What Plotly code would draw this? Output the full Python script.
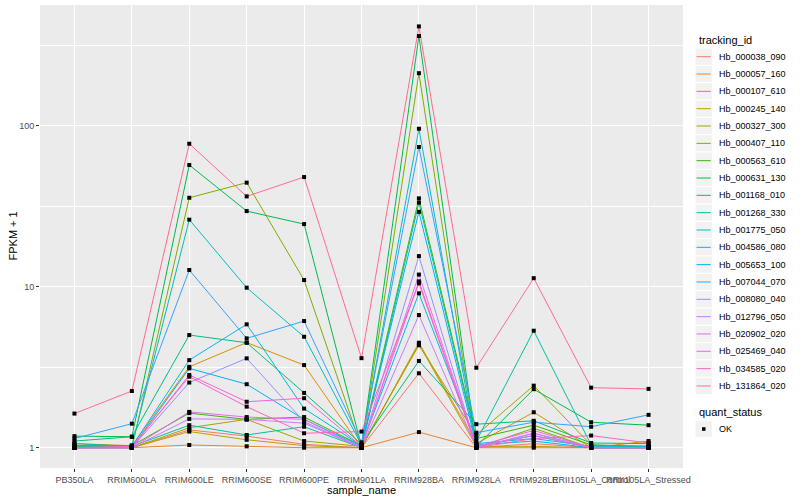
import plotly.graph_objects as go

samples = ["PB350LA", "RRIM600LA", "RRIM600LE", "RRIM600SE", "RRIM600PE", "RRIM901LA",
           "RRIM928BA", "RRIM928LA", "RRIM928LE", "RRII105LA_Control", "RRII105LA_Stressed"]

tracking_ids = ["Hb_000038_090", "Hb_000057_160", "Hb_000107_610", "Hb_000245_140",
                "Hb_000327_300", "Hb_000407_110", "Hb_000563_610", "Hb_000631_130",
                "Hb_001168_010", "Hb_001268_330", "Hb_001775_050", "Hb_004586_080",
                "Hb_005653_100", "Hb_007044_070", "Hb_008080_040", "Hb_012796_050",
                "Hb_020902_020", "Hb_025469_040", "Hb_034585_020", "Hb_131864_020"]

colors = ["#F8766D", "#EA8331", "#D89000", "#C09B00", "#A3A500", "#7CAE00", "#39B600",
          "#00BB4E", "#00BF7D", "#00C1A3", "#00BFC4", "#00BAE0", "#00B0F6", "#35A2FF",
          "#9590FF", "#C77CFF", "#E76BF3", "#FA62DB", "#FF62BC", "#FF6C91"]

quant_status = ["OK"]

# FPKM + 1 per tracking_id, in sample order
Hb_000038_090 = [1.0, 1.0, 1.29, 1.18, 1.05, 1.0, 2.9, 1.0, 1.06, 1.0, 1.0]
Hb_000057_160 = [1.0, 1.0, 1.04, 1.02, 1.0, 1.0, 1.25, 1.0, 1.0, 1.0, 1.0]
Hb_000107_610 = [1.06, 1.03, 3.18, 4.5, 3.26, 1.0, 4.49, 1.06, 1.66, 1.0, 1.1]
Hb_000245_140 = [1.03, 1.0, 1.26, 1.12, 1.03, 1.0, 4.41, 1.02, 1.02, 1.0, 1.0]
Hb_000327_300 = [1.02, 1.0, 1.33, 1.5, 1.1, 1.02, 4.33, 1.2, 2.43, 1.04, 1.02]
Hb_000407_110 = [1.0, 1.0, 35.7, 44.3, 11.0, 1.0, 212, 1.0, 1.32, 1.0, 1.0]
Hb_000563_610 = [1.03, 1.03, 1.64, 1.5, 1.55, 1.03, 35.4, 1.14, 1.38, 1.04, 1.0]
Hb_000631_130 = [1.18, 1.17, 57, 29.5, 24.5, 1.02, 361, 1.02, 2.31, 1.44, 1.38]
Hb_001168_010 = [1.1, 1.17, 5.01, 4.49, 2.19, 1.05, 3.46, 1.40, 1.47, 1.07, 1.06]
Hb_001268_330 = [1.06, 1.02, 1.38, 1.2, 1.35, 1.0, 33.3, 1.1, 5.33, 1.04, 1.02]
Hb_001775_050 = [1.02, 1.03, 26.1, 9.86, 4.89, 1.04, 95.8, 1.02, 1.19, 1.0, 1.0]
Hb_004586_080 = [1.0, 1.02, 3.5, 5.84, 1.75, 1.03, 9.1, 1.06, 1.14, 1.02, 1.02]
Hb_005653_100 = [1.0, 1.0, 3.11, 2.48, 1.5, 1.02, 29.2, 1.04, 1.10, 1.0, 1.0]
Hb_007044_070 = [1.14, 1.41, 12.7, 4.78, 6.12, 1.08, 73.8, 1.24, 1.44, 1.35, 1.6]
Hb_008080_040 = [1.0, 1.0, 2.54, 3.59, 1.45, 1.0, 15.5, 1.0, 1.23, 1.0, 1.0]
Hb_012796_050 = [1.0, 1.0, 1.51, 1.5, 1.42, 1.0, 6.67, 1.0, 1.23, 1.0, 1.0]
Hb_020902_020 = [1.0, 1.0, 1.67, 1.55, 1.5, 1.0, 11.9, 1.02, 1.19, 1.0, 1.0]
Hb_025469_040 = [1.0, 1.0, 2.83, 1.93, 2.03, 1.02, 10.8, 1.02, 1.28, 1.0, 1.0]
Hb_034585_020 = [1.0, 1.02, 2.76, 1.80, 1.23, 1.26, 10.5, 1.0, 1.14, 1.19, 1.07]
Hb_131864_020 = [1.63, 2.25, 77.3, 36.4, 48, 3.6, 414, 3.14, 11.3, 2.36, 2.32]

series = [Hb_000038_090, Hb_000057_160, Hb_000107_610, Hb_000245_140, Hb_000327_300,
          Hb_000407_110, Hb_000563_610, Hb_000631_130, Hb_001168_010, Hb_001268_330,
          Hb_001775_050, Hb_004586_080, Hb_005653_100, Hb_007044_070, Hb_008080_040,
          Hb_012796_050, Hb_020902_020, Hb_025469_040, Hb_034585_020, Hb_131864_020]

FONT = "Liberation Sans"
W, H = 800, 500
PL, PR, PT, PB = 40, 683, 5, 468  # plot panel in pixels


def px(x):
    return (x - PL) / (PR - PL)


def py(y):
    return (PB - y) / (PB - PT)


fig = go.Figure()

for name, vals, col in zip(tracking_ids, series, colors):
    fig.add_trace(go.Scatter(x=samples, y=vals, mode="lines", name=name,
                             line=dict(color=col, width=1), showlegend=False))

all_x, all_y = [], []
for vals in series:
    all_x += samples
    all_y += vals
fig.add_trace(go.Scatter(x=all_x, y=all_y, mode="markers", name=quant_status[0],
                         marker=dict(color="black", symbol="square", size=4),
                         showlegend=False))

# ggplot-style legend drawn with shapes and text
shapes, annos = [], []
key_l, key_r = 695, 712.3
row0, rowh = 56.7, 17.33
annos.append(dict(text="tracking_id", x=px(697), y=py(40.5), xref="paper", yref="paper",
                  xanchor="left", yanchor="middle", showarrow=False,
                  font=dict(size=11, color="black", family=FONT)))
for i, (name, col) in enumerate(zip(tracking_ids, colors)):
    yc = row0 + i * rowh
    shapes.append(dict(type="rect", xref="paper", yref="paper",
                       x0=px(key_l), x1=px(key_r), y0=py(yc - rowh / 2), y1=py(yc + rowh / 2),
                       fillcolor="#F2F2F2", line=dict(color="white", width=1), layer="below"))
    shapes.append(dict(type="line", xref="paper", yref="paper",
                       x0=px(key_l + 1.5), x1=px(key_r - 1.5), y0=py(yc), y1=py(yc),
                       line=dict(color=col, width=1)))
    annos.append(dict(text=name, x=px(717), y=py(yc), xref="paper", yref="paper",
                      xanchor="left", yanchor="middle", showarrow=False,
                      font=dict(size=9, color="black", family=FONT)))

annos.append(dict(text="quant_status", x=px(697), y=py(412), xref="paper", yref="paper",
                  xanchor="left", yanchor="middle", showarrow=False,
                  font=dict(size=11, color="black", family=FONT)))
yc = 429
shapes.append(dict(type="rect", xref="paper", yref="paper",
                   x0=px(key_l), x1=px(key_r), y0=py(yc - rowh / 2), y1=py(yc + rowh / 2),
                   fillcolor="#F2F2F2", line=dict(color="white", width=1), layer="below"))
shapes.append(dict(type="rect", xref="paper", yref="paper",
                   x0=px(702), x1=px(705.5), y0=py(yc - 1.8), y1=py(yc + 1.8),
                   fillcolor="black", line=dict(width=0)))
annos.append(dict(text=quant_status[0], x=px(717), y=py(yc), xref="paper", yref="paper",
                  xanchor="left", yanchor="middle", showarrow=False,
                  font=dict(size=9, color="black", family=FONT)))

# axis titles
annos.append(dict(text="sample_name", x=0.5, y=py(489.5), xref="paper", yref="paper",
                  xanchor="center", yanchor="middle", showarrow=False,
                  font=dict(size=11, color="black", family=FONT)))
annos.append(dict(text="FPKM + 1", x=px(12), y=0.5, xref="paper", yref="paper",
                  xanchor="center", yanchor="middle", showarrow=False, textangle=-90,
                  font=dict(size=11, color="black", family=FONT)))

fig.update_layout(
    width=W, height=H,
    margin=dict(l=PL, r=W - PR, t=PT, b=H - PB),
    paper_bgcolor="white", plot_bgcolor="#EBEBEB",
    font=dict(family=FONT, color="#4D4D4D", size=9),
    showlegend=False,
    shapes=shapes, annotations=annos,
    xaxis=dict(type="category", categoryorder="array", categoryarray=samples,
               range=[-0.6, 10.6], showgrid=True, gridcolor="white", gridwidth=1.1,
               zeroline=False, ticks="outside", ticklen=3, tickcolor="#333333",
               tickangle=0, automargin=False,
               tickfont=dict(size=9, color="#4D4D4D", family=FONT)),
    yaxis=dict(type="log", range=[-0.126, 2.75], tickvals=[1, 10, 100],
               ticktext=["1", "10", "100"], showgrid=True, gridcolor="white", gridwidth=1.1,
               zeroline=False, ticks="outside", ticklen=3, tickcolor="#333333",
               automargin=False,
               tickfont=dict(size=9, color="#4D4D4D", family=FONT),
               minor=dict(tickmode="array", tickvals=[3.1623, 31.623, 316.23],
                          showgrid=True, gridcolor="white", gridwidth=0.5, ticks="")),
)

fig.write_html("out.html", config={"displayModeBar": False},
               post_script="document.body.style.margin='0px';")
